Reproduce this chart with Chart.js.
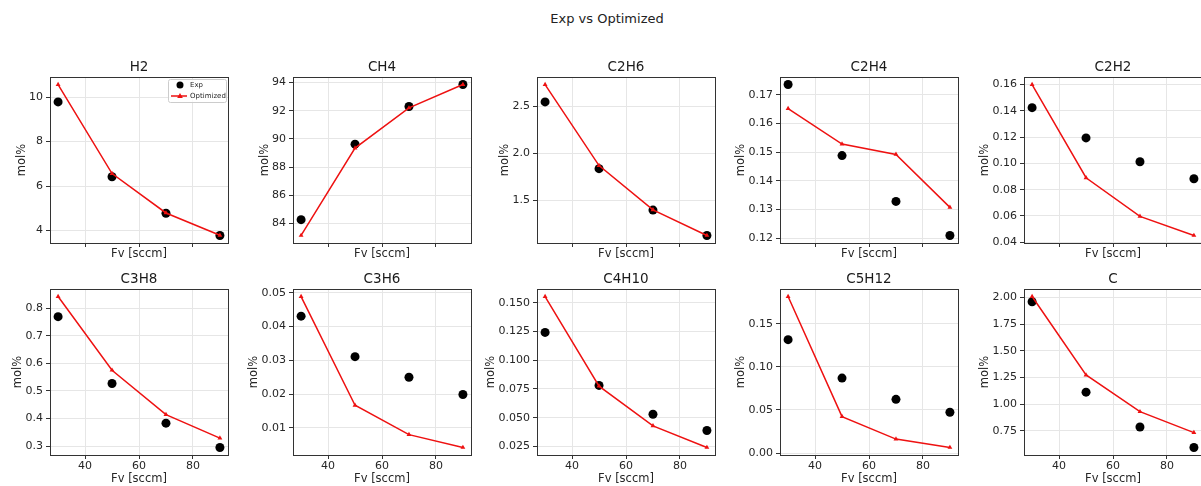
<!DOCTYPE html>
<html>
<head>
<meta charset="utf-8">
<script src="https://cdn.jsdelivr.net/npm/chart.js@4.4.0/dist/chart.umd.min.js"></script>
<style>
  body { margin: 0; background: #fff; width: 1201px; height: 486px; overflow: hidden; position: relative; font-family: "DejaVu Sans", sans-serif; }
  #suptitle { position: absolute; left: 0; width: 1214px; top: 11px; text-align: center; font-size: 13px; color: #222; }
  canvas { position: absolute; }
</style>
</head>
<body>
<div id="suptitle">Exp vs Optimized</div>
<script>
// flow rates (x) and tick labels
var fv = [30, 50, 70, 90];
var xTicks = ['40', '60', '80'];

var species = ['H2', 'CH4', 'C2H6', 'C2H4', 'C2H2', 'C3H8', 'C3H6', 'C4H10', 'C5H12', 'C'];

var expValues = [
  [9.78, 6.42, 4.78, 3.78],
  [84.27, 89.63, 92.30, 93.86],
  [2.546, 1.837, 1.397, 1.128],
  [0.1736, 0.1488, 0.1328, 0.1209],
  [0.1424, 0.1194, 0.1013, 0.0883],
  [0.769, 0.527, 0.383, 0.295],
  [0.0431, 0.0311, 0.0250, 0.0199],
  [0.1243, 0.0781, 0.0530, 0.0389],
  [0.1315, 0.0869, 0.0623, 0.0473],
  [1.960, 1.113, 0.787, 0.595]
];

var optValues = [
  [10.56, 6.56, 4.79, 3.79],
  [83.15, 89.35, 92.20, 93.86],
  [2.73, 1.87, 1.40, 1.128],
  [0.1652, 0.1528, 0.1492, 0.1307],
  [0.1600, 0.0891, 0.0597, 0.0452],
  [0.842, 0.575, 0.414, 0.329],
  [0.0489, 0.0167, 0.0080, 0.0042],
  [0.1555, 0.0775, 0.0429, 0.0241],
  [0.1815, 0.0423, 0.0162, 0.0065],
  [2.009, 1.274, 0.930, 0.734]
];

var yTicks = [
  ['4', '6', '8', '10'],
  ['84', '86', '88', '90', '92', '94'],
  ['1.5', '2.0', '2.5'],
  ['0.12', '0.13', '0.14', '0.15', '0.16', '0.17'],
  ['0.04', '0.06', '0.08', '0.10', '0.12', '0.14', '0.16'],
  ['0.3', '0.4', '0.5', '0.6', '0.7', '0.8'],
  ['0.01', '0.02', '0.03', '0.04', '0.05'],
  ['0.025', '0.050', '0.075', '0.100', '0.125', '0.150'],
  ['0.00', '0.05', '0.10', '0.15'],
  ['0.75', '1.00', '1.25', '1.50', '1.75', '2.00']
];

var plotW = 178, plotH = 166;
var colLeft = [50, 293, 537, 780, 1024];
var rowTop = [77, 289];
var axisW = 60, titleH = 25, padR = 6;
var tickFont = 11, labelFont = 11.5;
var spineColor = '#333333';
var gridColor = '#e6e6e6';

Chart.defaults.font.family = '"DejaVu Sans", sans-serif';
Chart.defaults.color = '#262626';

// used to place "mol%" just left of the widest tick label, like matplotlib
var measure = document.createElement('canvas').getContext('2d');
measure.font = tickFont + 'px "DejaVu Sans"';

// top and right spines
var frame = {
  id: 'frame',
  afterDraw: function (chart) {
    var a = chart.chartArea, ctx = chart.ctx;
    ctx.save();
    ctx.strokeStyle = spineColor;
    ctx.lineWidth = 1;
    ctx.strokeRect(Math.round(a.left) + 0.5, Math.round(a.top) + 0.5, Math.round(a.right - a.left), Math.round(a.bottom - a.top));
    ctx.restore();
  }
};

// small legend inside the upper right corner
var insideLegend = {
  id: 'insideLegend',
  afterDraw: function (chart, args, opts) {
    if (!opts.show) return;
    var ctx = chart.ctx, a = chart.chartArea;
    var w = 58, h = 23, x = a.right - w - 2, y = a.top + 2;
    ctx.save();
    ctx.fillStyle = 'rgba(255,255,255,0.8)';
    ctx.strokeStyle = '#cccccc';
    ctx.lineWidth = 1;
    ctx.beginPath();
    ctx.roundRect(x + 0.5, y + 0.5, w, h, 2);
    ctx.fill();
    ctx.stroke();
    ctx.font = '7px "DejaVu Sans"';
    ctx.textBaseline = 'middle';
    chart.data.datasets.forEach(function (ds, k) {
      var cy = y + 6 + k * 11, mx = x + 12;
      ctx.fillStyle = ds.pointBackgroundColor;
      ctx.strokeStyle = ds.borderColor;
      if (ds.showLine) {
        ctx.lineWidth = ds.borderWidth;
        ctx.beginPath();
        ctx.moveTo(x + 3, cy);
        ctx.lineTo(x + 19, cy);
        ctx.stroke();
        ctx.beginPath();
        ctx.moveTo(mx, cy - 3);
        ctx.lineTo(mx + 2.8, cy + 2);
        ctx.lineTo(mx - 2.8, cy + 2);
        ctx.closePath();
        ctx.fill();
      } else {
        ctx.beginPath();
        ctx.arc(mx, cy, 3.5, 0, Math.PI * 2);
        ctx.fill();
      }
      ctx.fillStyle = '#262626';
      ctx.fillText(ds.label, x + 22, cy);
    });
    ctx.restore();
  }
};

species.forEach(function (name, i) {
  var row = Math.floor(i / 5), col = i % 5;
  var bottomRow = row === 1;
  var xAxisH = bottomRow ? 31 : 20;
  var canvas = document.createElement('canvas');
  canvas.width = axisW + plotW + padR;
  canvas.height = titleH + plotH + xAxisH;
  canvas.style.left = (colLeft[col] - axisW) + 'px';
  canvas.style.top = (rowTop[row] - titleH) + 'px';
  document.body.appendChild(canvas);

  var all = expValues[i].concat(optValues[i]);
  var lo = Math.min.apply(null, all), hi = Math.max.apply(null, all);
  var pad = (hi - lo) * 0.05;
  var yLabels = yTicks[i];
  var labelW = Math.max.apply(null, yLabels.map(function (t) { return measure.measureText(t).width; }));
  var yTitlePad = axisW - (7 + labelW + 7) - labelFont * 0.6;

  new Chart(canvas, {
    type: 'line',
    data: {
      datasets: [{
        label: 'Exp',
        data: fv.map(function (x, k) { return {x: x, y: expValues[i][k]}; }),
        showLine: false,
        pointStyle: 'circle',
        pointRadius: 4.5,
        pointBorderWidth: 0,
        pointBackgroundColor: '#000000',
        borderColor: '#000000',
        order: 1
      }, {
        label: 'Optimized',
        data: fv.map(function (x, k) { return {x: x, y: optValues[i][k]}; }),
        showLine: true,
        borderColor: '#ee1111',
        borderWidth: 1.5,
        tension: 0,
        pointStyle: 'triangle',
        pointRadius: 2.8,
        pointBorderWidth: 0,
        pointBackgroundColor: '#ee1111',
        order: 0
      }]
    },
    options: {
      responsive: false,
      animation: false,
      events: [],
      layout: { padding: { right: padR } },
      plugins: {
        legend: { display: false },
        tooltip: { enabled: false },
        title: {
          display: true,
          fullSize: false,
          text: name,
          color: '#1a1a1a',
          font: { size: 13.5, weight: 'normal' },
          padding: { top: 7, bottom: 1.8 }
        },
        insideLegend: { show: i === 0 }
      },
      scales: {
        x: {
          type: 'linear',
          min: 27,
          max: 93,
          afterBuildTicks: function (s) { s.ticks = xTicks.map(function (t) { return {value: parseFloat(t)}; }); },
          afterFit: function (s) { s.height = xAxisH; },
          ticks: {
            display: bottomRow,
            font: { size: tickFont },
            padding: 1,
            maxRotation: 0,
            callback: function (v, k) { return xTicks[k]; }
          },
          grid: { color: gridColor, tickColor: spineColor, tickLength: 4 },
          border: { color: spineColor, width: 1 },
          title: {
            display: true,
            text: 'Fv [sccm]',
            font: { size: labelFont },
            padding: { top: 0, bottom: bottomRow ? 0.5 : 2.5 }
          }
        },
        y: {
          min: lo - pad,
          max: hi + pad,
          afterBuildTicks: function (s) { s.ticks = yLabels.map(function (t) { return {value: parseFloat(t)}; }); },
          afterFit: function (s) { s.width = axisW; },
          ticks: {
            font: { size: tickFont },
            padding: 3,
            callback: function (v, k) { return yLabels[k]; }
          },
          grid: { color: gridColor, tickColor: spineColor, tickLength: 4 },
          border: { color: spineColor, width: 1 },
          title: {
            display: true,
            text: 'mol%',
            font: { size: labelFont },
            padding: { top: yTitlePad, bottom: 0 }
          }
        }
      }
    },
    plugins: [frame, insideLegend]
  });
});
</script>
</body>
</html>
